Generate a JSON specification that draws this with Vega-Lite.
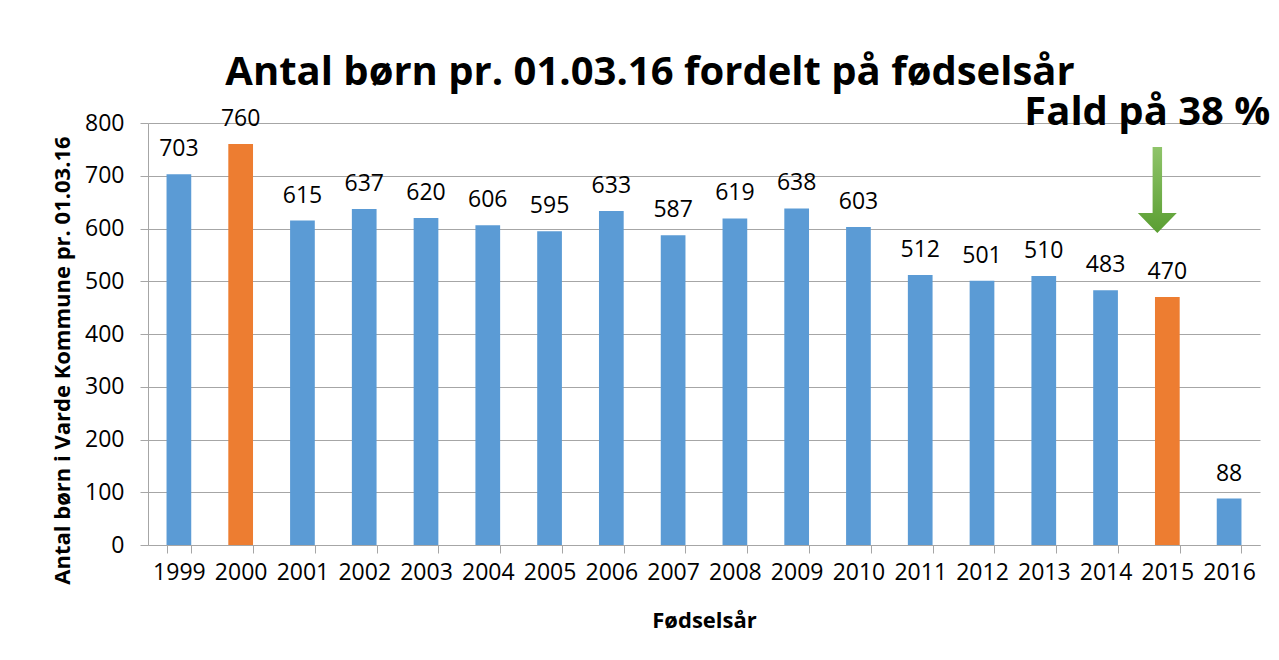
{
  "$schema": "https://vega.github.io/schema/vega-lite/v6.json",
  "autosize": {"type": "none"},
  "width": 1112,
  "height": 422,
  "padding": {"left": 148, "top": 123, "right": 19, "bottom": 115},
  "background": "white",
  "config": {"font": "Open Sans", "view": {"stroke": null}},
  "title": {
    "text": "Antal børn pr. 01.03.16 fordelt på fødselsår",
    "fontSize": 40,
    "fontWeight": "bold",
    "color": "black",
    "anchor": "middle",
    "frame": "group",
    "dx": -54,
    "offset": 0
  },
  "data": {
    "values": [
      {"year": "1999", "count": 703},
      {"year": "2000", "count": 760},
      {"year": "2001", "count": 615},
      {"year": "2002", "count": 637},
      {"year": "2003", "count": 620},
      {"year": "2004", "count": 606},
      {"year": "2005", "count": 595},
      {"year": "2006", "count": 633},
      {"year": "2007", "count": 587},
      {"year": "2008", "count": 619},
      {"year": "2009", "count": 638},
      {"year": "2010", "count": 603},
      {"year": "2011", "count": 512},
      {"year": "2012", "count": 501},
      {"year": "2013", "count": 510},
      {"year": "2014", "count": 483},
      {"year": "2015", "count": 470},
      {"year": "2016", "count": 88}
    ]
  },
  "encoding": {
    "x": {
      "field": "year",
      "type": "nominal",
      "sort": null,
      "scale": {"paddingInner": 0.6, "paddingOuter": 0.3},
      "axis": {
        "title": "Fødselsår",
        "titleFontSize": 22,
        "titleFontWeight": "bold",
        "titleColor": "black",
        "titleY": 82,
        "titleBaseline": "alphabetic",
        "labelAngle": 0,
        "labelFontSize": 23,
        "labelColor": "black",
        "labelPadding": 8,
        "tickBand": "extent",
        "tickSize": 8,
        "tickColor": "#a6a6a6",
        "domainColor": "#a6a6a6",
        "grid": false
      }
    },
    "y": {
      "field": "count",
      "type": "quantitative",
      "scale": {"domain": [0, 800], "nice": false},
      "axis": {
        "values": [0, 100, 200, 300, 400, 500, 600, 700, 800],
        "title": "Antal børn i Varde Kommune pr. 01.03.16",
        "titleFontSize": 22,
        "titleFontWeight": "bold",
        "titleColor": "black",
        "titleX": -74,
        "titleY": 237,
        "titleBaseline": "bottom",
        "titleAlign": "center",
        "labelFontSize": 23,
        "labelColor": "black",
        "labelPadding": 16,
        "tickSize": 8,
        "tickColor": "#a6a6a6",
        "domainColor": "#a6a6a6",
        "gridColor": "#a6a6a6",
        "gridWidth": 1
      }
    }
  },
  "layer": [
    {
      "mark": {"type": "bar"},
      "encoding": {
        "color": {
          "condition": {"test": "datum.year === '2000' || datum.year === '2015'", "value": "#ED7D31"},
          "value": "#5B9BD5"
        }
      }
    },
    {
      "mark": {"type": "text", "fontSize": 23, "color": "black", "baseline": "alphabetic", "dy": -18},
      "encoding": {"text": {"field": "count", "type": "quantitative"}}
    },
    {
      "transform": [{"filter": "datum.year === '2015'"}],
      "mark": {
        "type": "point",
        "shape": "M -0.11 -1 L 0.11 -1 L 0.11 0.535 L 0.453 0.535 L 0 1 L -0.453 0.535 L -0.11 0.535 Z",
        "size": 7396,
        "filled": true,
        "opacity": 1,
        "strokeWidth": 0,
        "xOffset": -10,
        "fill": {
          "gradient": "linear",
          "x1": 0, "y1": 0, "x2": 0, "y2": 1,
          "stops": [
            {"offset": 0, "color": "#8fc46a"},
            {"offset": 1, "color": "#5a9e32"}
          ]
        }
      },
      "encoding": {
        "y": {"datum": 673}
      }
    },
    {
      "transform": [{"filter": "datum.year === '2015'"}],
      "mark": {
        "type": "text",
        "text": "Fald på 38 %",
        "fontSize": 40,
        "fontWeight": "bold",
        "color": "black",
        "baseline": "alphabetic",
        "align": "center",
        "dx": -20
      },
      "encoding": {
        "y": {"datum": 796}
      }
    }
  ]
}
